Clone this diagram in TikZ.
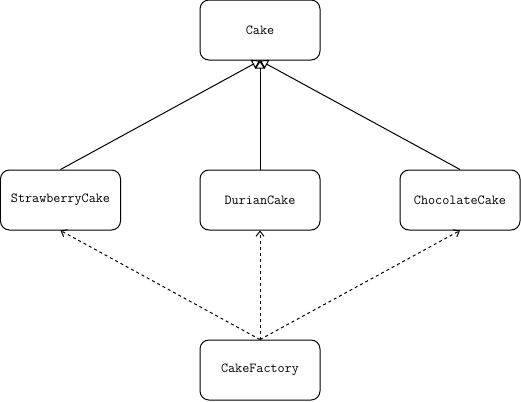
\documentclass[tikz,border=0pt]{standalone}
\usepackage{fontspec}
\usetikzlibrary{arrows.meta}

\begin{document}
\begin{tikzpicture}[x=1bp, y=-1bp, font=\ttfamily\fontsize{13.8}{16}\selectfont,
  cls/.style={draw,black,line width=1bp,rounded corners=9bp,minimum width=120bp,minimum height=60bp,inner sep=0pt},
  inherit/.style={draw,black,line width=1bp,-{Triangle[open,length=8bp,width=10bp]}},
  depend/.style={draw,black,line width=1bp,dash pattern=on 3bp off 3bp,-{Straight Barb[length=5bp,width=8bp]}}]

  % Fix the margins.
  \useasboundingbox (0,0) rectangle (521,401);

  % Boxes for the classes.
  \node[cls] (cake) at (260,30) {Cake};
  \node[cls] (strawberry) at (60.5,200) {StrawberryCake};
  \node[cls] (durian) at (260,200) {DurianCake};
  \node[cls] (chocolate) at (460,200) {ChocolateCake};
  \node[cls] (factory) at (260,370) {CakeFactory};

  % Inheritance lines up to Cake.
  \draw[inherit] (strawberry.north) -- (cake.south);
  \draw[inherit] (durian.north) -- (cake.south);
  \draw[inherit] (chocolate.north) -- (cake.south);

  % Dashed lines from the factory.
  \draw[depend] (factory.north) -- (strawberry.south);
  \draw[depend] (factory.north) -- (durian.south);
  \draw[depend] (factory.north) -- (chocolate.south);

\end{tikzpicture}
\end{document}
